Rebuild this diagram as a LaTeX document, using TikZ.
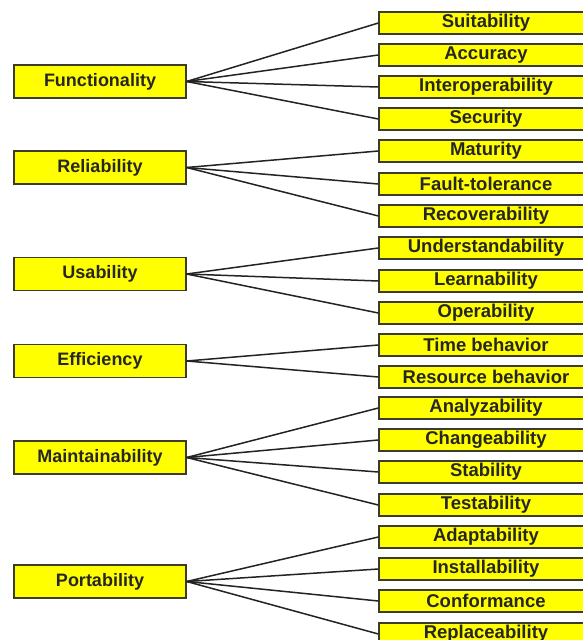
\documentclass[tikz,border=0pt]{standalone}
\usepackage{fontspec}
\setmainfont{Liberation Sans}
\usepackage{tikz}
\usetikzlibrary{positioning}
\definecolor{BoxYellow}{RGB}{255,255,0}
\definecolor{BoxEdge}{RGB}{60,60,45}
\definecolor{LinkGray}{RGB}{35,35,35}

\begin{document}
\begin{tikzpicture}[x=1pt,y=-1pt,
        trait/.style={draw=BoxEdge,fill=BoxYellow,line width=1.3pt,inner sep=0pt,
                      minimum width=172pt,minimum height=33pt,
                      font=\bfseries\fontsize{18}{18}\selectfont,text=black!85},
        sub/.style={draw=BoxEdge,fill=BoxYellow,line width=1.3pt,inner sep=0pt,
                    minimum width=214pt,minimum height=22pt,
                    font=\bfseries\fontsize{18.5}{18.5}\selectfont,text=black!85},
        link/.style={draw=LinkGray,line width=1.5pt}
      ]
        \useasboundingbox[fill=white] (0,0) rectangle (583,640);
        % main characteristics
        \node[trait] (func) at (100,81.5) {Functionality};
        \node[trait] (reli) at (100,167.5) {Reliability};
        \node[trait] (usab) at (100,274) {Usability};
        \node[trait] (effi) at (100,361) {Efficiency};
        \node[trait] (main) at (100,457.5) {Maintainability};
        \node[trait] (port) at (100,581.5) {Portability};
        % sub-characteristics
        \node[sub] (suit) at (486,23) {Suitability};
        \node[sub] (accu) at (486,55) {Accuracy};
        \node[sub] (inter) at (486,87) {Interoperability};
        \node[sub] (secu) at (486,119) {Security};
        \node[sub] (matu) at (486,151) {Maturity};
        \node[sub] (fault) at (486,184) {Fault-tolerance};
        \node[sub] (recov) at (486,216) {Recoverability};
        \node[sub] (under) at (486,248) {Understandability};
        \node[sub] (learn) at (486,281) {Learnability};
        \node[sub] (oper) at (486,313) {Operability};
        \node[sub] (time) at (486,345) {Time behavior};
        \node[sub] (reso) at (486,377) {Resource behavior};
        \node[sub] (anal) at (486,408) {Analyzability};
        \node[sub] (chan) at (486,440) {Changeability};
        \node[sub] (stab) at (486,472) {Stability};
        \node[sub] (test) at (486,505) {Testability};
        \node[sub] (adap) at (486,537) {Adaptability};
        \node[sub] (inst) at (486,569) {Installability};
        \node[sub] (conf) at (486,601) {Conformance};
        \node[sub] (repl) at (486,634) {Replaceability};
        % links
        \draw[link] (func.east)--(suit.west);
        \draw[link] (func.east)--(accu.west);
        \draw[link] (func.east)--(inter.west);
        \draw[link] (func.east)--(secu.west);
        \draw[link] (reli.east)--(matu.west);
        \draw[link] (reli.east)--(fault.west);
        \draw[link] (reli.east)--(recov.west);
        \draw[link] (usab.east)--(under.west);
        \draw[link] (usab.east)--(learn.west);
        \draw[link] (usab.east)--(oper.west);
        \draw[link] (effi.east)--(time.west);
        \draw[link] (effi.east)--(reso.west);
        \draw[link] (main.east)--(anal.west);
        \draw[link] (main.east)--(chan.west);
        \draw[link] (main.east)--(stab.west);
        \draw[link] (main.east)--(test.west);
        \draw[link] (port.east)--(adap.west);
        \draw[link] (port.east)--(inst.west);
        \draw[link] (port.east)--(conf.west);
        \draw[link] (port.east)--(repl.west);
      \end{tikzpicture}
\end{document}
